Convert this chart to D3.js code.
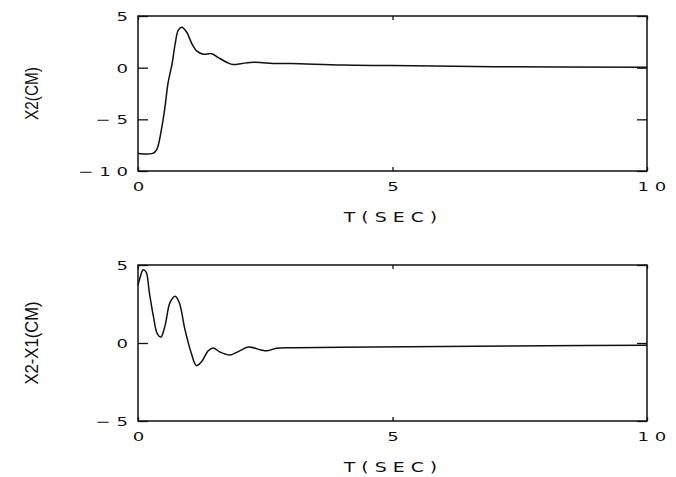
<!DOCTYPE html>
<html>
<head>
<meta charset="utf-8">
<script src="https://cdn.jsdelivr.net/npm/d3@7.9.0/dist/d3.min.js"></script>
<style>
  html, body { margin: 0; padding: 0; background: #fff; }
  svg { display: block; }
  .tick text { font-family: "DejaVu Sans", sans-serif; font-size: 12.5px; fill: #111; }
  .ylab { font-family: "Liberation Sans Narrow", "Liberation Sans", sans-serif; font-size: 19px; fill: #111; }
  .xlab { font-family: "DejaVu Sans", sans-serif; font-size: 13.5px; fill: #111; }
</style>
</head>
<body>
<svg id="chart" width="676" height="477"></svg>
<script>
// X2 response (top panel)
const timeTop = [0, 0.29, 0.37, 0.47, 0.53, 0.59, 0.67, 0.73, 0.79, 0.86, 0.96, 1.06, 1.16, 1.28, 1.45, 1.57, 1.75, 1.87, 2.04, 2.2, 2.4, 2.65, 3.0, 4.0, 5.0, 7.0, 10];
const x2Values = [-8.3, -8.3, -7.9, -5.7, -3.8, -1.5, 0.4, 2.3, 3.6, 3.9, 3.4, 2.3, 1.6, 1.3, 1.35, 1.0, 0.5, 0.3, 0.4, 0.5, 0.5, 0.4, 0.4, 0.25, 0.2, 0.1, 0.05];

// X2 - X1 response (bottom panel)
const timeBottom = [0, 0.05, 0.1, 0.16, 0.22, 0.3, 0.38, 0.45, 0.53, 0.63, 0.73, 0.81, 0.92, 1.04, 1.15, 1.25, 1.38, 1.48, 1.61, 1.81, 1.97, 2.17, 2.4, 2.53, 2.72, 3.0, 4, 6, 8, 10];
const diffValues = [3.7, 4.3, 4.7, 4.55, 3.3, 1.75, 0.58, 0.38, 1.1, 2.6, 3.0, 2.6, 0.9, -0.58, -1.45, -1.2, -0.5, -0.32, -0.58, -0.77, -0.55, -0.26, -0.43, -0.5, -0.34, -0.3, -0.28, -0.22, -0.18, -0.15];

const xTicks = [0, 5, 10];
const yTicksTop = [5, 0, -5, -10];
const yTicksBottom = [5, 0, -5];

const svg = d3.select('#chart');

// plotter style: spaced characters, minus sign apart
const spaced = (s) => s.split('').join(' ');
const fmt = (d) => (d < 0 ? '\u2212 ' + spaced(String(-d)) : spaced(String(d)));

const STRETCH = 1.45;

// the plotter font is wide: stretch glyphs horizontally, keeping the anchor point
function widen(sel) {
  sel.each(function () {
    const t = d3.select(this);
    const x0 = +t.attr('x') || 0;
    t.attr('x', x0 / STRETCH).attr('transform', `scale(${STRETCH},1)`);
  });
}

function drawPanel(opts) {
  const { top, bottom, left, right, yDomain, yTicks, times, values, label, labelLen } = opts;
  const x = d3.scaleLinear().domain([0, 10]).range([left, right]);
  const y = d3.scaleLinear().domain(yDomain).range([bottom, top]);
  const g = svg.append('g');

  // frame
  g.append('rect')
    .attr('x', left).attr('y', top)
    .attr('width', right - left).attr('height', bottom - top)
    .attr('fill', 'none').attr('stroke', '#111').attr('stroke-width', 1.5);

  const left_ = g.append('g').attr('transform', `translate(${left},0)`)
    .call(d3.axisLeft(y).tickValues(yTicks).tickSize(-10).tickPadding(10).tickFormat(fmt));
  const right_ = g.append('g').attr('transform', `translate(${right},0)`)
    .call(d3.axisRight(y).tickValues(yTicks).tickSize(-10).tickFormat(''));
  const bottom_ = g.append('g').attr('transform', `translate(0,${bottom})`)
    .call(d3.axisBottom(x).tickValues(xTicks).tickSize(-4).tickPadding(11).tickFormat(fmt));
  const top_ = g.append('g').attr('transform', `translate(0,${top})`)
    .call(d3.axisTop(x).tickValues(xTicks).tickSize(-4).tickFormat(''));

  [left_, right_, bottom_, top_].forEach((a) => {
    a.select('.domain').remove();
    a.selectAll('.tick line').attr('stroke', '#111').attr('stroke-width', 1.3);
  });
  left_.selectAll('.tick text').attr('dy', '0.36em').call(widen);
  bottom_.selectAll('.tick text').attr('dy', '0.71em').call(widen);
  bottom_.selectAll('.tick text').filter((d) => d === 10).attr('dx', 3);

  const line = d3.line()
    .x((d, i) => x(times[i]))
    .y((d) => y(d))
    .curve(d3.curveCatmullRom);

  g.append('path')
    .datum(values)
    .attr('d', line)
    .attr('fill', 'none')
    .attr('stroke', '#111')
    .attr('stroke-width', 1.5);

  g.append('g')
    .attr('transform', `translate(${(left + right) / 2 - 2},${bottom + 51}) scale(1.4,1)`)
    .append('text')
    .attr('class', 'xlab')
    .attr('text-anchor', 'middle')
    .text('T ( S E C )');

  g.append('text')
    .attr('class', 'ylab')
    .attr('transform', `translate(38,${(top + bottom) / 2}) rotate(-90)`)
    .attr('text-anchor', 'middle')
    .attr('textLength', labelLen)
    .attr('lengthAdjust', 'spacingAndGlyphs')
    .text(label);
}

drawPanel({
  top: 16, bottom: 171, left: 138, right: 647,
  yDomain: [-10, 5], yTicks: yTicksTop,
  times: timeTop, values: x2Values,
  label: 'X2(CM)', labelLen: 53,
});

drawPanel({
  top: 265, bottom: 421, left: 138, right: 647,
  yDomain: [-5, 5], yTicks: yTicksBottom,
  times: timeBottom, values: diffValues,
  label: 'X2-X1(CM)', labelLen: 83,
});
</script>
</body>
</html>
